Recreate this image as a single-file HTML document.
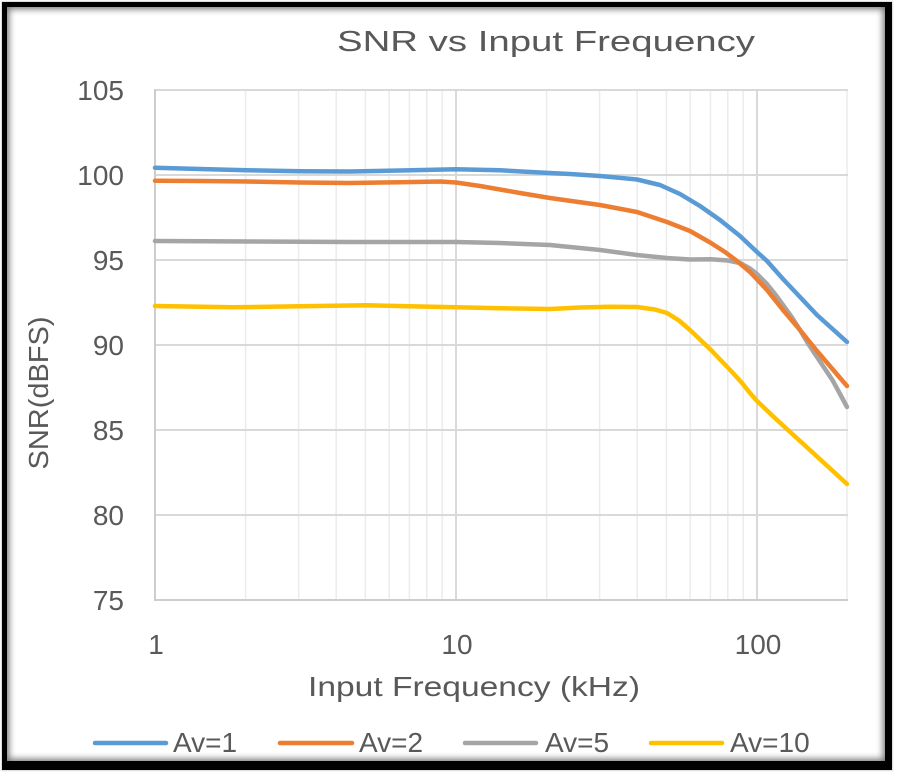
<!DOCTYPE html>
<html>
<head>
<meta charset="utf-8">
<style>
  html, body { margin:0; padding:0; background:#ffffff; }
  body { width:900px; height:777px; position:relative; overflow:hidden; }
  .frame {
    position:absolute; left:2px; top:2px; width:878px; height:754px;
    border-style:solid; border-color:#000;
    border-width:5px 7px 9px 5px;
    box-shadow: inset 0 0 7px 2px rgba(0,0,0,0.55), 0 0 1px 1px #d8d8d8;
    background:#fff;
  }
  svg { position:absolute; left:0; top:0; }
  text { font-family:"Liberation Sans", Arial, sans-serif; fill:#595959; }
</style>
</head>
<body>
<div class="frame"></div>
<svg width="900" height="777" viewBox="0 0 900 777" xmlns="http://www.w3.org/2000/svg">
  <!-- minor vertical gridlines -->
  <g stroke="#ececec" stroke-width="1.5">
    <line x1="245.6" y1="90" x2="245.6" y2="600"/>
    <line x1="298.6" y1="90" x2="298.6" y2="600"/>
    <line x1="336.2" y1="90" x2="336.2" y2="600"/>
    <line x1="365.4" y1="90" x2="365.4" y2="600"/>
    <line x1="389.2" y1="90" x2="389.2" y2="600"/>
    <line x1="409.4" y1="90" x2="409.4" y2="600"/>
    <line x1="426.8" y1="90" x2="426.8" y2="600"/>
    <line x1="442.2" y1="90" x2="442.2" y2="600"/>
    <line x1="546.6" y1="90" x2="546.6" y2="600"/>
    <line x1="599.6" y1="90" x2="599.6" y2="600"/>
    <line x1="637.2" y1="90" x2="637.2" y2="600"/>
    <line x1="666.4" y1="90" x2="666.4" y2="600"/>
    <line x1="690.2" y1="90" x2="690.2" y2="600"/>
    <line x1="710.4" y1="90" x2="710.4" y2="600"/>
    <line x1="727.8" y1="90" x2="727.8" y2="600"/>
    <line x1="743.2" y1="90" x2="743.2" y2="600"/>
    <line x1="847" y1="90" x2="847" y2="600"/>
  </g>
  <!-- major vertical gridlines -->
  <g stroke="#d9d9d9" stroke-width="2">
    <line x1="456" y1="90" x2="456" y2="600"/>
    <line x1="757" y1="90" x2="757" y2="600"/>
  </g>
  <!-- horizontal gridlines -->
  <g stroke="#d9d9d9" stroke-width="2">
    <line x1="155" y1="90" x2="848" y2="90"/>
    <line x1="155" y1="175" x2="848" y2="175"/>
    <line x1="155" y1="260" x2="848" y2="260"/>
    <line x1="155" y1="345" x2="848" y2="345"/>
    <line x1="155" y1="430" x2="848" y2="430"/>
    <line x1="155" y1="515" x2="848" y2="515"/>
  </g>
  <!-- axes -->
  <g stroke="#cdcdcd" stroke-width="2">
    <line x1="155" y1="89" x2="155" y2="601"/>
    <line x1="154" y1="600" x2="848" y2="600"/>
  </g>

  <!-- series -->
  <g fill="none" stroke-width="4.5" stroke-linecap="round" stroke-linejoin="round">
    <polyline stroke="#ffc000" points="155,306 233,307.3 300,306.3 367,305.3 420,306.5 456,307.3 500,308.3 550,309 580,307.5 610,306.8 637,307 655,309.5 667,313 679,320.5 690,330 700,339.5 711,350 722,361.5 733,373 742,383 750,393 757,401 767,410.5 777,420 800,441 823,462 847,484"/>
    <polyline stroke="#a5a5a5" points="155,241 250,241.5 350,242 456,242 500,243 550,245 600,250 637,255 667,258 690,259.5 711,259.3 728,260.5 740,263 750,268.5 757,274 767,284 775,294 783,305 792,317.5 800,330 808,343.5 817,357 825,369 833,381 840,394 847,407"/>
    <polyline stroke="#ed7d31" points="155,180.7 200,181 247,181.5 300,182.5 350,183 400,182.2 440,181.5 456,182.5 480,186 500,189.5 520,193 550,198 600,205 637,212 667,222 690,231 711,243 725,252 737,261 750,272 767,290 783,310 800,330 817,351 832,368.5 847,386"/>
    <polyline stroke="#5b9bd5" points="155,167.7 200,169 247,170.2 300,171.2 350,171.5 400,170.5 456,169.3 500,170.3 540,172.5 570,174 600,176 637,179.5 660,185 680,194 700,206 720,220 740,236 757,252 767,261 783,279 800,297 817,315 832,328.5 847,342"/>
  </g>

  <!-- title -->
  <text x="337" y="51" font-size="29" textLength="418" lengthAdjust="spacingAndGlyphs">SNR vs Input Frequency</text>

  <!-- y tick labels -->
  <g font-size="28" text-anchor="end">
    <text x="124" y="100">105</text>
    <text x="124" y="185">100</text>
    <text x="124" y="270">95</text>
    <text x="124" y="355">90</text>
    <text x="124" y="440">85</text>
    <text x="124" y="525">80</text>
    <text x="124" y="610">75</text>
  </g>
  <!-- x tick labels -->
  <g font-size="28" text-anchor="middle">
    <text x="156" y="654">1</text>
    <text x="457" y="654">10</text>
    <text x="758" y="654">100</text>
  </g>

  <!-- axis titles -->
  <text x="308" y="696" font-size="28" textLength="332" lengthAdjust="spacingAndGlyphs">Input Frequency (kHz)</text>
  <text x="0" y="0" font-size="28" text-anchor="middle" textLength="153" lengthAdjust="spacingAndGlyphs" transform="translate(48,393) rotate(-90)">SNR(dBFS)</text>

  <!-- legend -->
  <g stroke-width="4.5" stroke-linecap="round">
    <line x1="95" y1="743" x2="166" y2="743" stroke="#5b9bd5"/>
    <line x1="280" y1="743" x2="352" y2="743" stroke="#ed7d31"/>
    <line x1="465" y1="743" x2="536" y2="743" stroke="#a5a5a5"/>
    <line x1="651" y1="743" x2="722" y2="743" stroke="#ffc000"/>
  </g>
  <g font-size="28">
    <text x="173" y="752">Av=1</text>
    <text x="359" y="752">Av=2</text>
    <text x="545" y="752">Av=5</text>
    <text x="730" y="752">Av=10</text>
  </g>
</svg>
</body>
</html>
